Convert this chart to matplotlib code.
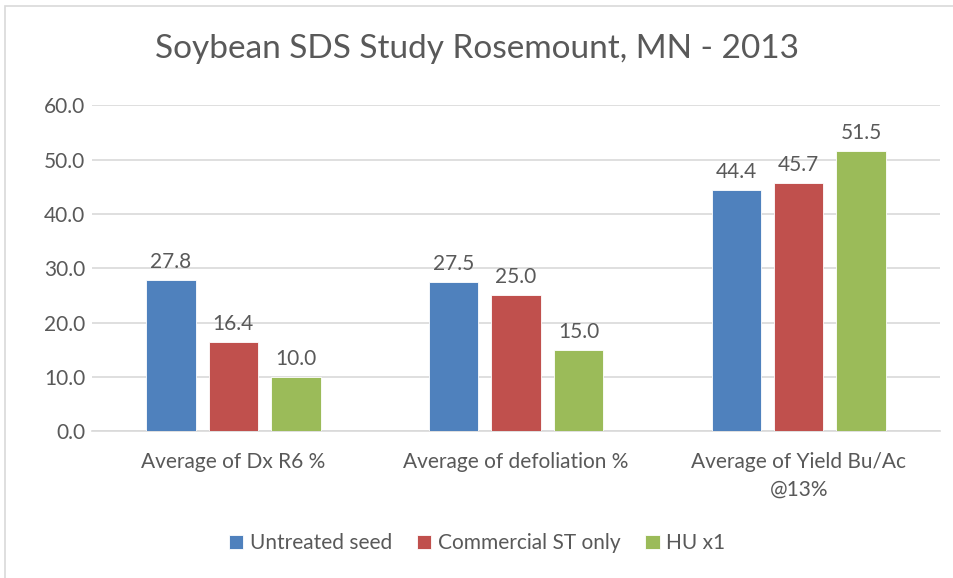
import matplotlib
matplotlib.use("Agg")
from matplotlib import pyplot as plt
from matplotlib.patches import Rectangle
import numpy as np

plt.rcParams['font.family'] = ['Lato', 'DejaVu Sans']

categories = ["Average of Dx R6 %", "Average of defoliation %", "Average of Yield Bu/Ac\n@13%"]
series_names = ["Untreated seed", "Commercial ST only", "HU x1"]
untreated = [27.8, 27.5, 44.4]
commercial = [16.4, 25.0, 45.7]
hu = [10.0, 15.0, 51.5]
colors = ["#4F81BD", "#C0504D", "#9BBB59"]
yticks = [0, 10, 20, 30, 40, 50, 60]

fig = plt.figure(figsize=(9.54, 5.78), dpi=100)
ax = fig.add_axes([0.0964, 0.254, 0.889, 0.564])

# chart border like excel
fig.patches.append(Rectangle((0.005, -0.01), 1.1, 1.0, transform=fig.transFigure,
                             fill=False, edgecolor="#D9D9D9", linewidth=1.2))

x = np.arange(len(categories))
offset = 0.221
width = 0.175
text_col = "#595959"

for i, (vals, name) in enumerate(zip([untreated, commercial, hu], series_names)):
    pos = x + (i - 1) * offset
    bars = ax.bar(pos, vals, width, color=colors[i], label=name, zorder=3,
                  edgecolor="white", linewidth=0.6)
    for b, v in zip(bars, vals):
        ax.text(b.get_x() + b.get_width() / 2, v + 1.5, f"{v:.1f}", ha="center",
                va="bottom", fontsize=15, color=text_col)

ax.set_xlim(-0.5, 2.5)
ax.set_ylim(0, 60)
ax.set_yticks(yticks)
ax.set_yticklabels([f"{t:.1f}" for t in yticks], fontsize=15, color=text_col)
ax.set_xticks(x)
ax.set_xticklabels(categories, fontsize=15, color=text_col, linespacing=1.45)
ax.tick_params(axis="both", length=0)
ax.tick_params(axis="x", pad=15)
ax.tick_params(axis="y", pad=5)
ax.yaxis.grid(True, color="#D9D9D9", linewidth=1.2, zorder=0)
ax.set_axisbelow(True)
for s in ["top", "right", "left"]:
    ax.spines[s].set_visible(False)
ax.spines["bottom"].set_color("#D9D9D9")
ax.spines["bottom"].set_linewidth(1.2)

fig.text(0.5, 0.915, "Soybean SDS Study Rosemount, MN - 2013", ha="center", va="center",
         fontsize=24, color=text_col)

fig.legend(loc="center", bbox_to_anchor=(0.5, 0.06), ncol=3, frameon=False,
           fontsize=15, handlelength=0.7, handleheight=0.7, handletextpad=0.3,
           columnspacing=1.2, labelcolor=text_col)

fig.savefig("out.png", dpi=100)
